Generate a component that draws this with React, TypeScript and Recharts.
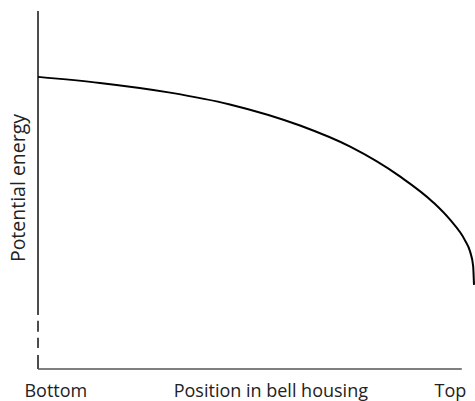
import React from 'react';
import { LineChart, Line, XAxis, YAxis, ReferenceLine } from 'recharts';

// Position along bell housing (0 = bottom, 100 = top), relative units
const positions = [0, 14.2, 30.3, 44, 60.1, 71.6, 83, 90.6, 94.5, 97.9, 99.1, 99.8, 100];
// Potential energy (relative units)
const energy = [81.6, 79.9, 77.2, 73.9, 68.0, 62.1, 53.8, 46.6, 41.7, 36.0, 32.8, 28.8, 23.5];

// X-axis labels and where they sit along the axis
const xLabelPositions = [4.1, 53.4, 94.6];
const xLabels = ['Bottom', 'Position in bell housing', 'Top'];

// Y axis drawn as segments (broken near the bottom)
const yAxisSegments: [number, number][] = [
  [100, 15.1],
  [13.5, 10.4],
  [8.7, 5.9],
  [3.9, 0],
];
const xAxisEnd = 97.2;

const data = positions.map((p, i) => ({ pos: p, energy: energy[i] }));

const FONT = '"Open Sans", "Noto Sans", sans-serif';

export default function App() {
  return (
    <div style={{ position: 'absolute', left: 0, top: 0, background: '#fff' }}>
      <LineChart
        width={475}
        height={401}
        data={data}
        margin={{ top: 11, right: 1, bottom: 0, left: 0 }}
      >
        <XAxis
          dataKey="pos"
          type="number"
          domain={[0, 100]}
          ticks={xLabelPositions}
          interval={0}
          tickFormatter={(v: number) => xLabels[xLabelPositions.indexOf(v)] ?? ''}
          axisLine={false}
          tickLine={false}
          tickSize={0}
          tickMargin={15}
          height={32}
          tick={{ fill: '#222', fontSize: 18, fontFamily: FONT }}
        />
        <YAxis
          type="number"
          domain={[0, 100]}
          width={38}
          axisLine={false}
          tickLine={false}
          tick={false}
          label={{
            content: (props: any) => {
              const vb = props.viewBox || {};
              const cx = 17;
              const cy = (vb.y ?? 11) + (vb.height ?? 358) / 2 - 2;
              return (
                <text
                  x={cx}
                  y={cy}
                  transform={`rotate(-90, ${cx}, ${cy})`}
                  textAnchor="middle"
                  dominantBaseline="central"
                  fill="#222"
                  fontSize={19.5}
                  fontFamily={FONT}
                >
                  Potential energy
                </text>
              );
            },
          }}
        />
        {yAxisSegments.map((s, i) => (
          <ReferenceLine
            key={'y' + i}
            segment={[
              { x: 0, y: s[0] },
              { x: 0, y: s[1] },
            ]}
            stroke="#111"
            strokeWidth={1.5}
            ifOverflow="visible"
          />
        ))}
        <ReferenceLine
          segment={[
            { x: 0, y: 0 },
            { x: xAxisEnd, y: 0 },
          ]}
          stroke="#555"
          strokeWidth={1.5}
          ifOverflow="visible"
        />
        <Line
          type="monotone"
          dataKey="energy"
          stroke="#000"
          strokeWidth={2}
          dot={false}
          isAnimationActive={false}
        />
      </LineChart>
    </div>
  );
}
